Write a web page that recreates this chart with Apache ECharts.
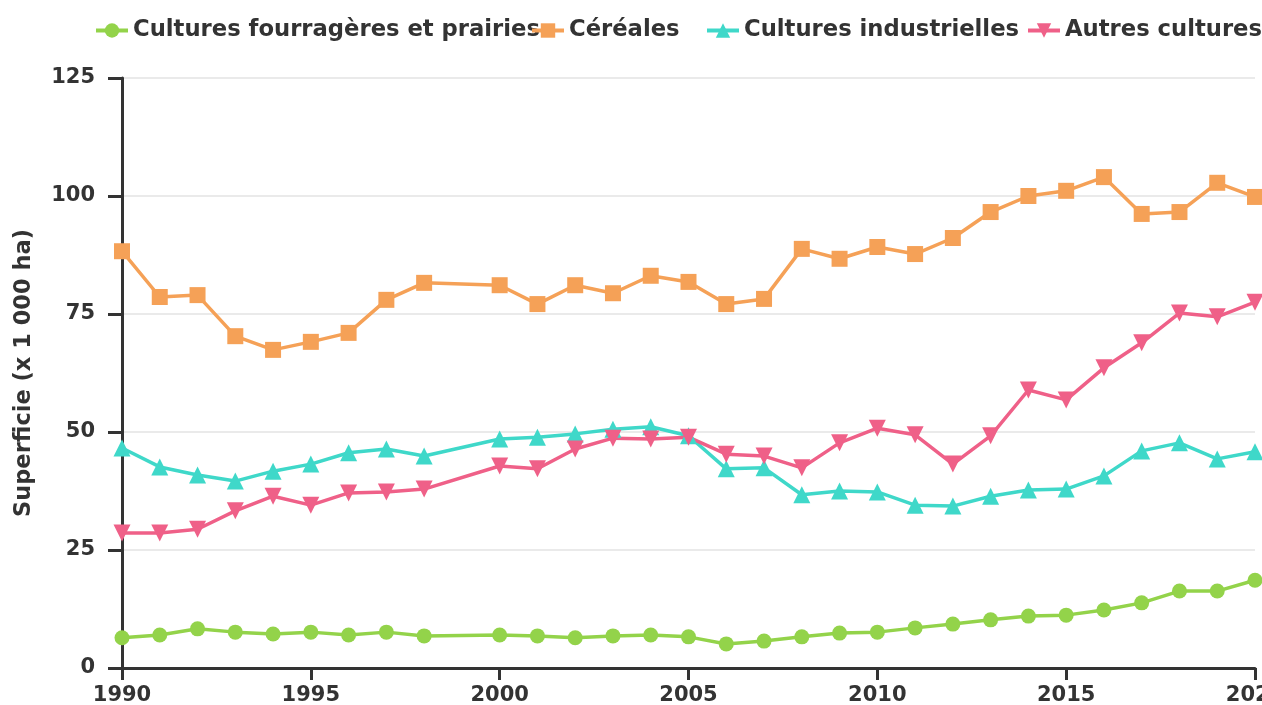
<!DOCTYPE html>
<html lang="fr">
<head>
    <meta charset="UTF-8">
    <title>Superficie des cultures</title>
    <style>
        * { padding: 0; margin: 0; }
        html, body { width: 100%; height: 100%; background: #fff; }
        #main { width: 1262px; height: 705px; }
    </style>
</head>
<body>
    <div id="main"></div>
    <script src="https://cdn.jsdelivr.net/npm/echarts@6/dist/echarts.min.js"></script>
    <script>
        // années (1999 absent)
        var years = [1990, 1991, 1992, 1993, 1994, 1995, 1996, 1997, 1998,
            2000, 2001, 2002, 2003, 2004, 2005, 2006, 2007, 2008, 2009, 2010,
            2011, 2012, 2013, 2014, 2015, 2016, 2017, 2018, 2019, 2020];
        var seriesNames = ['Cultures fourragères et prairies', 'Céréales', 'Cultures industrielles', 'Autres cultures'];

        var fourrageres = [6.4, 7.0, 8.3, 7.6, 7.2, 7.6, 7.0, 7.6, 6.8,
            7.0, 6.8, 6.4, 6.8, 7.0, 6.6, 5.1, 5.7, 6.6, 7.4, 7.6,
            8.5, 9.3, 10.2, 11.0, 11.2, 12.3, 13.8, 16.3, 16.3, 18.6];
        var cereales = [88.3, 78.6, 79.0, 70.3, 67.4, 69.1, 71.0, 78.0, 81.6,
            81.1, 77.1, 81.1, 79.4, 83.1, 81.8, 77.1, 78.2, 88.8, 86.7, 89.2,
            87.7, 91.1, 96.6, 100.0, 101.1, 104.0, 96.2, 96.6, 102.8, 99.8];
        var industrielles = [46.6, 42.6, 40.9, 39.6, 41.7, 43.2, 45.6, 46.4, 44.9,
            48.5, 48.9, 49.6, 50.6, 51.1, 49.2, 42.2, 42.4, 36.7, 37.5, 37.3,
            34.5, 34.3, 36.4, 37.7, 37.9, 40.7, 46.0, 47.7, 44.3, 45.8];
        var autres = [28.6, 28.6, 29.4, 33.3, 36.4, 34.5, 37.1, 37.3, 37.9,
            42.8, 42.2, 46.4, 48.7, 48.5, 48.9, 45.3, 44.9, 42.4, 47.7, 50.8,
            49.4, 43.2, 49.2, 58.9, 56.8, 63.6, 68.9, 75.2, 74.4, 77.5];

        var colors = ['#93d34a', '#f5a157', '#3fd8c9', '#ef6088'];
        var font = 'DejaVu Sans';

        function pairs(arr) {
            return years.map(function (y, i) { return [y, arr[i]]; });
        }

        // une légende par série pour garder les positions de l'original
        var legendLeft = [89, 525, 700, 1021];
        var legends = seriesNames.map(function (n, i) {
            return {
                data: [n],
                left: legendLeft[i],
                top: 14,
                itemWidth: 32,
                itemHeight: 18,
                itemGap: 0,
                lineStyle: { width: 4 },
                textStyle: { fontFamily: font, fontWeight: 'bold', fontSize: 22.7, color: '#333' }
            };
        });

        var myChart = echarts.init(document.getElementById('main'));
        var option = {
            animation: false,
            color: colors,
            legend: legends,
            grid: { left: 122, right: 7, top: 78, bottom: 37, containLabel: false, outerBoundsMode: 'none' },
            xAxis: {
                type: 'value',
                min: 1990,
                max: 2020,
                interval: 5,
                axisLine: { lineStyle: { color: '#333', width: 3 } },
                axisTick: { length: 12, lineStyle: { color: '#333', width: 3 } },
                axisLabel: {
                    margin: 17,
                    fontFamily: font, fontWeight: 'bold', fontSize: 21, color: '#333',
                    formatter: function (v) { return String(v); }
                },
                splitLine: { show: false }
            },
            yAxis: {
                type: 'value',
                min: 0,
                max: 125,
                interval: 25,
                name: 'Superficie (x 1 000 ha)',
                nameLocation: 'middle',
                nameGap: 86,
                nameTextStyle: { fontFamily: font, fontWeight: 'bold', fontSize: 22.5, color: '#333' },
                axisLine: { show: true, lineStyle: { color: '#333', width: 3 } },
                axisTick: { show: true, length: 14, lineStyle: { color: '#333', width: 3 } },
                axisLabel: { margin: 27, fontFamily: font, fontWeight: 'bold', fontSize: 21, color: '#333' },
                splitLine: { lineStyle: { color: '#e3e3e3', width: 1.5 } }
            },
            series: [{
                name: seriesNames[0],
                type: 'line',
                symbol: 'circle',
                symbolSize: 15,
                lineStyle: { width: 3.5 },
                data: pairs(fourrageres)
            }, {
                name: seriesNames[1],
                type: 'line',
                symbol: 'rect',
                symbolSize: 16,
                lineStyle: { width: 3.5 },
                data: pairs(cereales)
            }, {
                name: seriesNames[2],
                type: 'line',
                symbol: 'triangle',
                symbolSize: 17,
                lineStyle: { width: 3.5 },
                data: pairs(industrielles)
            }, {
                name: seriesNames[3],
                type: 'line',
                symbol: 'triangle',
                symbolRotate: 180,
                symbolSize: 17,
                lineStyle: { width: 3.5 },
                data: pairs(autres)
            }]
        };
        myChart.setOption(option);
    </script>
</body>
</html>
